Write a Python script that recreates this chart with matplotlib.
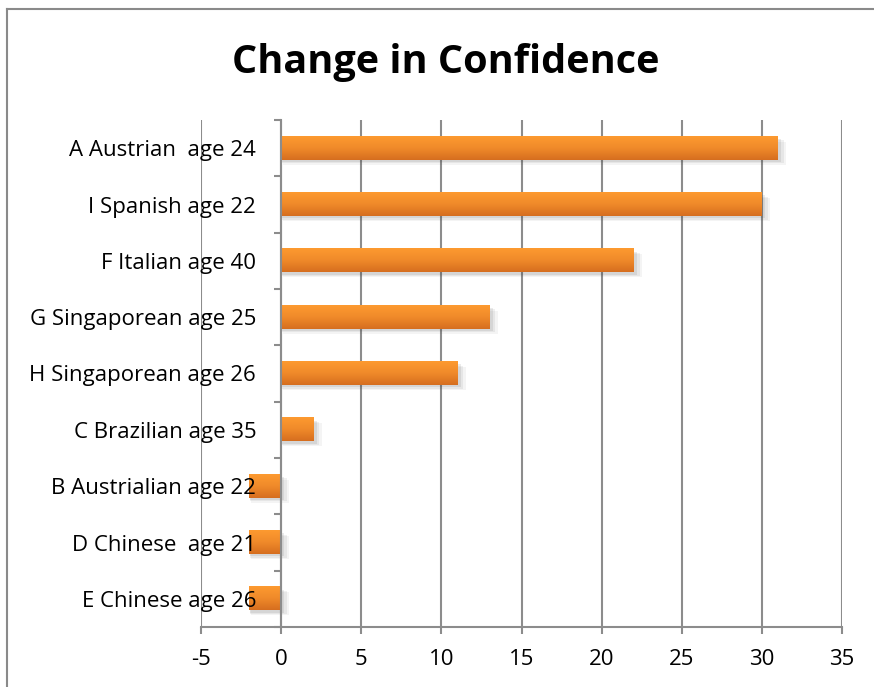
import numpy as np
import matplotlib
matplotlib.use("Agg")
import matplotlib.pyplot as plt
from matplotlib.lines import Line2D
from matplotlib.patches import Rectangle
from matplotlib.colors import LinearSegmentedColormap

categories = ["A Austrian  age 24", "I Spanish age 22", "F Italian age 40",
              "G Singaporean age 25", "H Singaporean age 26", "C Brazilian age 35",
              "B Austrialian age 22", "D Chinese  age 21", "E Chinese age 26"]
values = [31, 30, 22, 13, 11, 2, -2, -2, -2]
xticks = [-5, 0, 5, 10, 15, 20, 25, 30, 35]
title = "Change in Confidence"

FONT = "Open Sans"
W, H = 874, 687
fig = plt.figure(figsize=(W / 100, H / 100), dpi=100)
ax = fig.add_axes([201 / W, 1 - 627 / H, (842 - 201) / W, (627 - 120) / H])
ax.set_axisbelow(False)

n = len(categories)
ypos = np.arange(n)[::-1]
bh = 0.41
cmap = LinearSegmentedColormap.from_list("og", ["#d66e1f", "#f08a2a", "#fd9a30"])
grad = np.linspace(0, 1, 64).reshape(-1, 1)
gray = "#8c8c8c"

for xv in xticks:
    ax.axvline(xv, color=gray, lw=1.5, zorder=0.5)

for y, v in zip(ypos, values):
    x0, x1 = min(0, v), max(0, v)
    # soft shadow
    for dx, dy, a in [(0.4, 0.09, 0.06), (0.28, 0.065, 0.08), (0.16, 0.04, 0.10)]:
        ax.add_patch(Rectangle((x0 + dx * 0.3, y - bh / 2 - dy), (x1 - x0) + dx, bh,
                               facecolor="#444444", alpha=a, lw=0, zorder=1))
    ax.imshow(grad, extent=(x0, x1, y - bh / 2, y + bh / 2), origin="lower",
              cmap=cmap, aspect="auto", zorder=2, interpolation="bilinear")

ax.set_xlim(-5, 35)
ax.set_ylim(-0.5, n - 0.5)
ax.set_xticks(xticks)
ax.set_xticklabels([str(t) for t in xticks], fontfamily=FONT, fontsize=16)
ax.tick_params(axis="x", length=5, width=1.5, color=gray, pad=11)

ax.spines["top"].set_visible(False)
ax.spines["right"].set_visible(False)
ax.spines["bottom"].set_color(gray)
ax.spines["bottom"].set_linewidth(1.5)
ax.spines["left"].set_position(("data", 0))
ax.spines["left"].set_color(gray)
ax.spines["left"].set_linewidth(1.5)

ax.set_yticks(np.arange(-0.5, n, 1.0))
ax.set_yticklabels([])
ax.tick_params(axis="y", which="major", length=5, width=1.5, color=gray, direction="out")
ax.set_yticks(ypos, minor=True)
ax.set_yticklabels(categories, minor=True, fontfamily=FONT, fontsize=16)
ax.tick_params(axis="y", which="minor", length=0, pad=18)

fig.text(0.51, 1 - 62 / H, title, ha="center", va="center",
         fontfamily=FONT, fontweight="bold", fontsize=28.5)

# outer frame (left and top edges)
fig.add_artist(Line2D([7 / W, 7 / W], [0, 1 - 9 / H], transform=fig.transFigure, color="#8a8a8a", lw=1.5))
fig.add_artist(Line2D([7 / W, 1], [1 - 9 / H, 1 - 9 / H], transform=fig.transFigure, color="#8a8a8a", lw=1.5))

fig.savefig("out.png", dpi=100)
